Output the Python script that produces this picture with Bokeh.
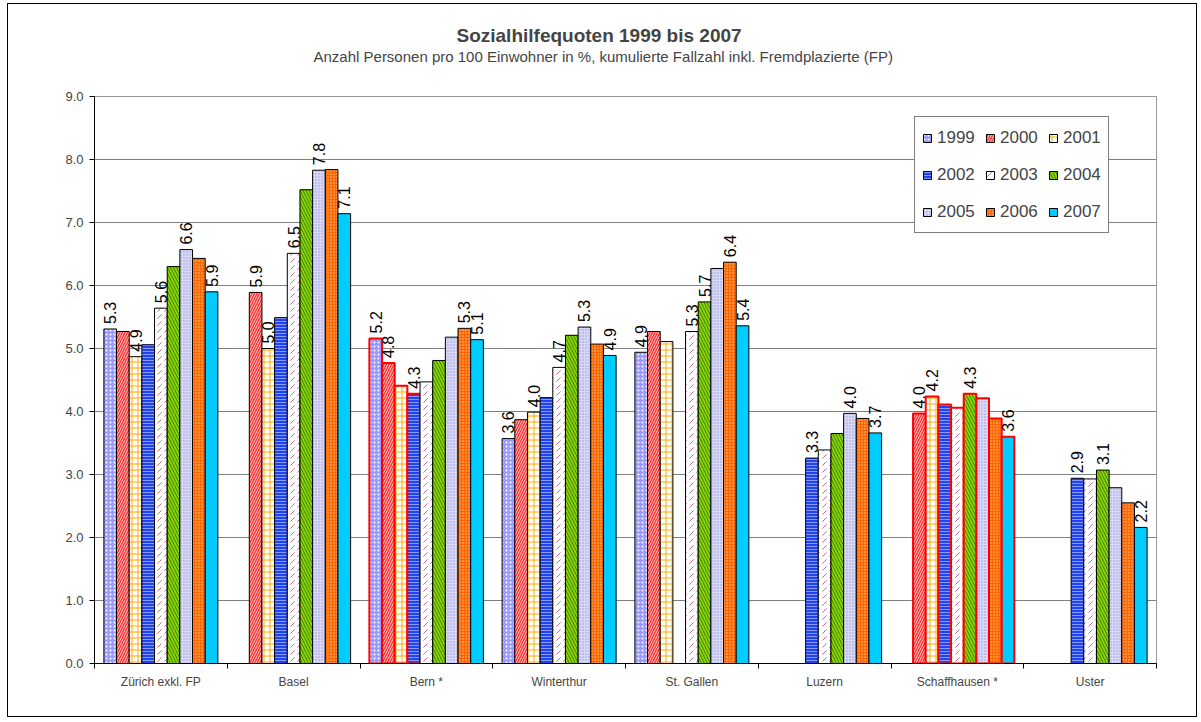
import math
from bokeh.plotting import figure
from bokeh.models import (ColumnDataSource, Range1d, FixedTicker, Legend, LegendItem,
                          Title, PrintfTickFormatter)
from bokeh.core.properties import value
from bokeh.embed import file_html
from bokeh.resources import INLINE

cities = ["Zürich exkl. FP", "Basel", "Bern *", "Winterthur", "St. Gallen",
          "Luzern", "Schaffhausen *", "Uster"]
years = ["1999", "2000", "2001", "2002", "2003", "2004", "2005", "2006", "2007"]

NA = float("nan")
v1999 = [5.31, NA, 5.16, 3.57, 4.94, NA, NA, NA]
v2000 = [5.27, 5.89, 4.77, 3.87, 5.27, NA, 3.97, NA]
v2001 = [4.87, 5.00, 4.41, 3.99, 5.11, NA, 4.24, NA]
v2002 = [5.06, 5.49, 4.28, 4.22, NA, 3.26, 4.11, 2.94]
v2003 = [5.64, 6.51, 4.47, 4.70, 5.27, 3.39, 4.06, 2.93]
v2004 = [6.30, 7.52, 4.81, 5.21, 5.74, 3.65, 4.28, 3.07]
v2005 = [6.57, 7.83, 5.18, 5.34, 6.27, 3.97, 4.21, 2.79]
v2006 = [6.43, 7.84, 5.32, 5.07, 6.37, 3.89, 3.89, 2.55]
v2007 = [5.90, 7.14, 5.14, 4.89, 5.36, 3.66, 3.60, 2.16]
series = [v1999, v2000, v2001, v2002, v2003, v2004, v2005, v2006, v2007]

title_text = "Sozialhilfequoten 1999 bis 2007"
subtitle_text = "Anzahl Personen pro 100 Einwohner in %, kumulierte Fallzahl inkl. Fremdplazierte (FP)"

# which bars carry a data label (city -> years)
labeled = {
    "Zürich exkl. FP": ["1999", "2001", "2003", "2005", "2007"],
    "Basel": ["2000", "2001", "2003", "2005", "2007"],
    "Bern *": ["1999", "2000", "2002", "2006", "2007"],
    "Winterthur": ["1999", "2001", "2003", "2005", "2007"],
    "St. Gallen": ["1999", "2003", "2004", "2006", "2007"],
    "Luzern": ["2002", "2005", "2007"],
    "Schaffhausen *": ["2000", "2001", "2004", "2007"],
    "Uster": ["2002", "2004", "2007"],
}
# bars outlined in red
highlighted = {
    "Bern *": ["1999", "2000", "2001", "2002"],
    "Schaffhausen *": years,
}

styles = [
    dict(fill_color="#9999FF", hatch_pattern="dot", hatch_color="white", hatch_scale=4, hatch_weight=1),
    dict(fill_color="#FF3030", hatch_pattern="right_diagonal_line", hatch_color="#FFD0D0", hatch_scale=5, hatch_weight=1),
    dict(fill_color="white", hatch_pattern="cross", hatch_color="#FFAA00", hatch_scale=6, hatch_weight=1),
    dict(fill_color="#2244EE", hatch_pattern="horizontal_line", hatch_color="#8899FF", hatch_scale=3, hatch_weight=1),
    dict(fill_color="white", hatch_pattern="right_diagonal_dash", hatch_color="#CC6699", hatch_scale=7, hatch_weight=1),
    dict(fill_color="#008000", hatch_pattern="left_diagonal_line", hatch_color="#99CC00", hatch_scale=6, hatch_weight=2),
    dict(fill_color="#D8D8F8", hatch_pattern="dot", hatch_color="#9999CC", hatch_scale=3, hatch_weight=1),
    dict(fill_color="#FF6600", hatch_pattern="dot", hatch_color="#FFCC99", hatch_scale=3, hatch_weight=1),
    dict(fill_color="#00CCFF"),
]

W, H = 1190, 714
p = figure(width=W, height=H, output_backend="svg", toolbar_location=None,
           x_range=Range1d(0, len(cities)), y_range=Range1d(0, 9),
           min_border_left=86, min_border_right=42, min_border_top=92, min_border_bottom=55)
p.styles = {"border": "1px solid black", "margin-left": "7px", "margin-top": "3px"}
p.title = None

FONT = "Liberation Sans"

bw = 0.0954
items = []
for j, (yr, vals) in enumerate(zip(years, series)):
    xs, tops, lc, lw = [], [], [], []
    lx, ly, lt = [], [], []
    for i, c in enumerate(cities):
        v = vals[i]
        if v != v:
            continue
        x = i + 0.5 + (j - 4) * bw
        xs.append(x)
        tops.append(v)
        red = yr in highlighted.get(c, [])
        lc.append("red" if red else "black")
        lw.append(2 if red else 1)
        if yr in labeled.get(c, []):
            lx.append(x)
            ly.append(v)
            lt.append(f"{v:.1f}")
    src = ColumnDataSource(dict(x=xs, top=tops, lc=lc, lw=lw))
    r = p.vbar(x="x", top="top", bottom=0, width=bw, source=src,
               line_color="lc", line_width="lw", **styles[j])
    items.append(LegendItem(label=yr, renderers=[r]))
    lsrc = ColumnDataSource(dict(x=lx, y=ly, t=lt))
    p.text(x="x", y="y", text="t", source=lsrc, angle=math.pi / 2,
           text_align="left", text_baseline="middle", y_offset=-5,
           text_font=value(FONT), text_font_size="16px", text_color="black")

# axes
p.yaxis.ticker = FixedTicker(ticks=list(range(0, 10)))
p.yaxis.formatter = PrintfTickFormatter(format="%.1f")
p.yaxis.major_label_text_font = FONT
p.yaxis.major_label_text_font_size = "13px"
p.yaxis.major_tick_out = 5
p.yaxis.major_tick_in = 0
p.yaxis.minor_tick_line_color = None
p.yaxis.major_label_standoff = 6
p.yaxis.axis_line_color = "black"

p.xaxis.ticker = FixedTicker(ticks=[i + 0.5 for i in range(len(cities))],
                             minor_ticks=list(range(len(cities) + 1)))
p.xaxis.major_label_overrides = {i + 0.5: c for i, c in enumerate(cities)}
p.xaxis.major_label_text_font = FONT
p.xaxis.major_label_text_font_size = "12px"
p.xaxis.major_tick_line_color = None
p.xaxis.major_tick_out = 0
p.xaxis.major_tick_in = 0
p.xaxis.minor_tick_out = 5
p.xaxis.minor_tick_in = 0
p.xaxis.minor_tick_line_color = "black"
p.xaxis.major_label_standoff = 6
p.xaxis.axis_line_color = "black"

p.xgrid.grid_line_color = None
p.ygrid.grid_line_color = "#808080"
p.ygrid.ticker = FixedTicker(ticks=list(range(0, 10)))
p.outline_line_color = "#999999"
p.background_fill_color = "white"

# legend filled row-wise (Bokeh fills columns first, so reorder)
ncols = 3
nrows = math.ceil(len(items) / ncols)
ordered = [items[r * ncols + c] for c in range(ncols) for r in range(nrows)]
legend = Legend(items=ordered, ncols=ncols, location=(820, 430),
                label_text_font=FONT, label_text_font_size="17px",
                glyph_width=10, glyph_height=10, label_standoff=5,
                label_height=27, label_width=38,
                spacing=10, padding=7, margin=0,
                border_line_color="black", border_line_width=1,
                background_fill_color="white", background_fill_alpha=1)
p.add_layout(legend)

# titles (stacked outward from the frame: spacer, subtitle, main title)
spacer = Title(text=" ", text_font=FONT, text_font_size="27px", standoff=0)
sub = Title(text=subtitle_text, align="left", text_font=FONT, text_font_size="15px",
            text_font_style="normal", offset=219, standoff=0)
main = Title(text=title_text, align="left", text_font=FONT, text_font_size="19px",
             text_font_style="bold", offset=362, standoff=0)
p.add_layout(spacer, "above")
p.add_layout(sub, "above")
p.add_layout(main, "above")

open("out.html", "w").write(file_html(p, INLINE))
